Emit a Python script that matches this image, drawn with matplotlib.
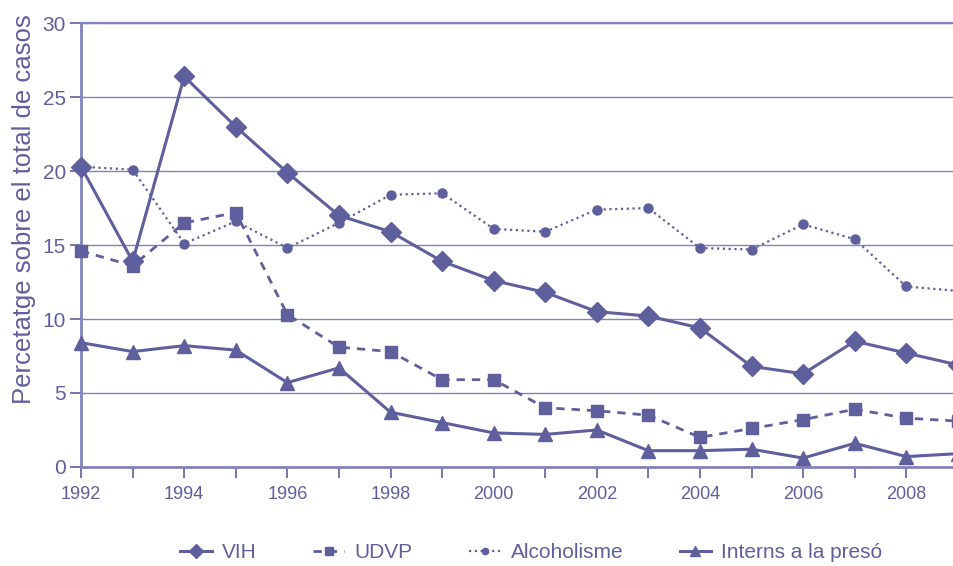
import numpy as np
import matplotlib.pyplot as plt
from matplotlib.ticker import MultipleLocator

years = list(range(1992, 2010))
vih = [20.3, 13.9, 26.4, 23.0, 19.9, 17.0, 15.9, 13.9, 12.6, 11.8,
       10.5, 10.2, 9.4, 6.8, 6.3, 8.5, 7.7, 6.9]
udvp = [14.6, 13.6, 16.5, 17.2, 10.3, 8.1, 7.8, 5.9, 5.9, 4.0,
        3.8, 3.5, 2.0, 2.6, 3.2, 3.9, 3.3, 3.1]
alcohol = [20.3, 20.1, 15.1, 16.6, 14.8, 16.5, 18.4, 18.5, 16.1, 15.9,
           17.4, 17.5, 14.8, 14.7, 16.4, 15.4, 12.2, 11.9]
presons = [8.4, 7.8, 8.2, 7.9, 5.7, 6.7, 3.7, 3.0, 2.3, 2.2,
           2.5, 1.1, 1.1, 1.2, 0.6, 1.6, 0.7, 0.9]
labels = ['VIH', 'UDVP', 'Alcoholisme', 'Interns a la presó']

COLOR = '#5f5f9e'
GRID = '#8383bb'

plt.rcParams['font.family'] = ['Liberation Sans', 'DejaVu Sans']

fig = plt.figure(figsize=(9.54, 5.66), dpi=100)
ax = fig.add_axes([0.085, 0.175, 0.919, 0.784])

ax.plot(years, vih, '-', marker='D', color=COLOR, lw=2.2, ms=10,
        label=labels[0], clip_on=False, zorder=4)
ax.plot(years, udvp, linestyle=(0, (3, 2.5)), marker='s', color=COLOR, lw=2.0,
        ms=8.5, label=labels[1], clip_on=False, zorder=3)
ax.plot(years, alcohol, linestyle=(0, (1, 1.6)), marker='o', color=COLOR,
        lw=1.6, ms=6.5, label=labels[2], clip_on=False, zorder=3)
ax.plot(years, presons, '-', marker='^', color=COLOR, lw=2.2, ms=9.5,
        label=labels[3], clip_on=False, zorder=3)

ax.set_xlim(1992, 2009)
ax.set_ylim(0, 30)
ax.xaxis.set_major_locator(MultipleLocator(2))
ax.xaxis.set_minor_locator(MultipleLocator(1))
ax.yaxis.set_major_locator(MultipleLocator(5))
ax.grid(axis='y', color=GRID, lw=1.0)
ax.set_axisbelow(True)

ax.spines['right'].set_visible(False)
ax.spines['top'].set_color(GRID)
ax.spines['top'].set_linewidth(1.6)
for side in ['left', 'bottom']:
    ax.spines[side].set_color(GRID)
    ax.spines[side].set_linewidth(2)

ax.tick_params(axis='both', colors=COLOR, length=8, width=1.2,
               direction='out')
ax.tick_params(axis='x', which='minor', length=8, width=1.2, color=COLOR)
ax.tick_params(axis='x', labelsize=13, pad=6)
ax.tick_params(axis='y', labelsize=15, pad=3)

ax.set_ylabel('Percetatge sobre el total de casos', color=COLOR, fontsize=18.5)
ax.yaxis.set_label_coords(-0.052, 0.58)

fig.legend(loc='center', bbox_to_anchor=(0.557, 0.023), ncol=4,
           frameon=False, fontsize=15, labelcolor=COLOR, handlelength=1.5,
           columnspacing=2.7, handletextpad=0.5, markerscale=0.7)

fig.savefig('out.png', dpi=100)
